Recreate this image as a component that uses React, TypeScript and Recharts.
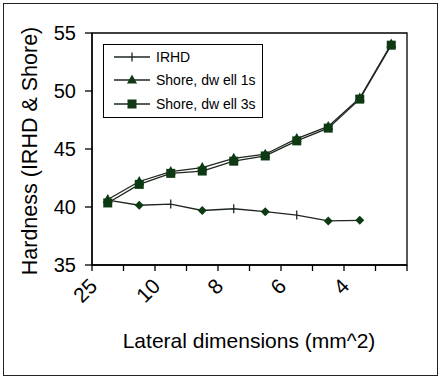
import React from 'react';
import { LineChart, Line, XAxis, YAxis, Legend, ReferenceArea } from 'recharts';

// tick labels sit on every other boundary, points sit between boundaries
const xTickLabels = ['25', '', '10', '', '8', '', '6', '', '4', '', ''];
const yTicks = [35, 40, 45, 50, 55];

const irhd = [40.6, 40.15, 40.25, 39.7, 39.85, 39.6, 39.3, 38.8, 38.85];
const shoreDwell1s = [40.65, 42.2, 43.05, 43.4, 44.2, 44.55, 45.9, 46.95, 49.4, 54.05];
const shoreDwell3s = [40.35, 41.95, 42.9, 43.1, 43.95, 44.4, 45.7, 46.8, 49.3, 53.95];
// the IRHD curve uses two different markers in the original
const irhdMarkers = ['plus', 'diamond', 'plus', 'diamond', 'plus', 'diamond', 'plus', 'diamond', 'diamond'];

const data = shoreDwell1s.map((v, i) => ({
  pos: i + 0.5,
  irhd: irhd[i],
  shore1: v,
  shore3: shoreDwell3s[i],
}));

const LINE = '#1e261e';
const MARK = '#0d3a12';
const FONT = '"Liberation Sans", Arial, sans-serif';

const Marker = ({ shape, cx, cy }: { shape: string; cx: number; cy: number }) => {
  if (shape === 'triangle')
    return <polygon points={`${cx},${cy - 5.5} ${cx + 5},${cy + 3.5} ${cx - 5},${cy + 3.5}`} fill={MARK} />;
  if (shape === 'square') return <rect x={cx - 4.5} y={cy - 4.5} width={9} height={9} fill={MARK} />;
  if (shape === 'diamond')
    return <polygon points={`${cx},${cy - 4.5} ${cx + 4.5},${cy} ${cx},${cy + 4.5} ${cx - 4.5},${cy}`} fill={MARK} />;
  return <line x1={cx} y1={cy - 4.5} x2={cx} y2={cy + 4.5} stroke={LINE} strokeWidth={1.3} />;
};

const dotFor = (pick: (i: number) => string) => (p: any) => {
  if (p.cx == null || p.cy == null || p.value == null) return <g key={p.index} />;
  return (
    <g key={p.index}>
      <Marker shape={pick(p.index)} cx={p.cx} cy={p.cy} />
    </g>
  );
};

const legendShapes: Record<string, string> = { irhd: 'plus', shore1: 'triangle', shore3: 'square' };

const LegendBox = (props: any) => (
  <div
    style={{
      border: '1.5px solid #000',
      background: '#fff',
      width: 160,
      height: 74,
      boxSizing: 'border-box',
      fontFamily: FONT,
      fontSize: 14,
      paddingTop: 0,
    }}
  >
    {(props.payload || []).map((e: any) => (
      <div key={e.dataKey} style={{ display: 'flex', alignItems: 'center', height: 23.5 }}>
        <svg width={52} height={14} style={{ flex: 'none' }}>
          <line x1={10} y1={7} x2={46} y2={7} stroke={LINE} strokeWidth={1.3} />
          <Marker shape={legendShapes[e.dataKey]} cx={28} cy={7} />
        </svg>
        <span style={{ color: '#000' }}>{e.value}</span>
      </div>
    ))}
  </div>
);

export default function App() {
  return (
    <div style={{ position: 'absolute', left: 0, top: 0, width: 440, height: 379, background: '#fff', overflow: 'hidden' }}>
      <div
        style={{
          position: 'absolute',
          left: 3,
          top: 3,
          width: 435,
          height: 373,
          border: '1.5px solid #222',
          boxSizing: 'border-box',
        }}
      />
      <LineChart width={440} height={379} data={data} margin={{ top: 33, right: 33, bottom: 0, left: 0 }}>
        <XAxis
          dataKey="pos"
          type="number"
          domain={[0, 10]}
          ticks={[0, 1, 2, 3, 4, 5, 6, 7, 8, 9, 10]}
          interval={0}
          tickFormatter={(v: number) => xTickLabels[v]}
          height={114}
          tickSize={6}
          tickMargin={6}
          axisLine={{ stroke: '#000', strokeWidth: 1.3 }}
          tickLine={{ stroke: '#000', strokeWidth: 1.3 }}
          tick={{ fill: '#000', fontSize: 21, fontFamily: FONT, angle: -45, textAnchor: 'end', dx: -4 }}
        />
        <YAxis
          type="number"
          domain={[35, 55]}
          ticks={yTicks}
          interval={0}
          width={92}
          tickSize={7}
          tickMargin={9}
          axisLine={{ stroke: '#000', strokeWidth: 1.3 }}
          tickLine={{ stroke: '#000', strokeWidth: 1.3 }}
          tick={{ fill: '#000', fontSize: 20, fontFamily: FONT }}
        />
        <ReferenceArea x1={0} x2={10} y1={35} y2={55} fill="none" stroke="#000" strokeWidth={1.3} ifOverflow="visible" />
        <Legend
          layout="vertical"
          align="center"
          verticalAlign="middle"
          content={LegendBox}
          wrapperStyle={{ left: 103, top: 44, width: 160, height: 74 }}
        />
        <Line
          dataKey="irhd"
          name="IRHD"
          stroke={LINE}
          strokeWidth={1.3}
          dot={dotFor((i) => irhdMarkers[i])}
          activeDot={false}
          isAnimationActive={false}
        />
        <Line
          dataKey="shore1"
          name="Shore, dw ell 1s"
          stroke={LINE}
          strokeWidth={1.3}
          dot={dotFor(() => 'triangle')}
          activeDot={false}
          isAnimationActive={false}
        />
        <Line
          dataKey="shore3"
          name="Shore, dw ell 3s"
          stroke={LINE}
          strokeWidth={1.3}
          dot={dotFor(() => 'square')}
          activeDot={false}
          isAnimationActive={false}
        />
      </LineChart>
      <div
        style={{
          position: 'absolute',
          left: 30,
          top: 151,
          transform: 'translate(-50%, -50%) rotate(-90deg)',
          whiteSpace: 'nowrap',
          fontFamily: FONT,
          fontSize: 21.5,
          color: '#000',
        }}
      >
        Hardness (IRHD &amp; Shore)
      </div>
      <div
        style={{
          position: 'absolute',
          left: 249,
          top: 341,
          transform: 'translate(-50%, -50%)',
          whiteSpace: 'nowrap',
          fontFamily: FONT,
          fontSize: 21,
          color: '#000',
        }}
      >
        Lateral dimensions (mm^2)
      </div>
    </div>
  );
}
